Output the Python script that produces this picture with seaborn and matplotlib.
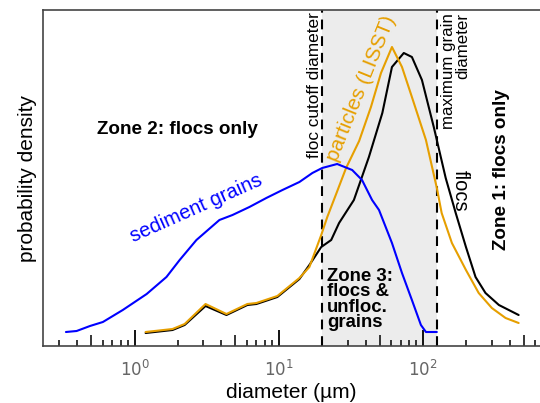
import numpy as np
import pandas as pd
import matplotlib
matplotlib.use("Agg")
import matplotlib.pyplot as plt
import matplotlib.ticker as mticker
import seaborn as sns

# ---- data ----
grain_d = [0.333, 0.395, 0.489, 0.601, 0.826, 1.21, 1.66, 2.05, 2.68, 3.87, 4.77, 6.25,
           8.19, 10.6, 13.9, 17.1, 20.0, 25.4, 32.3, 37.8, 44.4, 49.6, 61.0, 71.6,
           83.9, 96.9, 105, 125]
grain_p = [14, 15, 20, 24, 36, 52, 69, 86, 106, 126, 131, 139,
           148, 156, 164, 173, 178, 182, 176, 166, 146, 136, 103, 73,
           46, 21, 14, 14]

lisst_d = [1.19, 1.83, 2.22, 3.10, 4.33, 6.05, 6.99, 9.77, 13.9, 16.3, 19.7, 21.7,
           25.0, 29.3, 36.1, 43.6, 51.2, 61.0, 71.6, 83.9, 105, 125, 135, 159,
           199, 244, 301, 375, 462]
lisst_p = [14, 17, 22, 42, 32, 42, 43, 50, 68, 79, 111, 129,
           152, 178, 205, 239, 273, 299, 279, 249, 206, 158, 133, 103,
           76, 53, 38, 28, 23]

floc_d = [1.19, 1.83, 2.22, 3.10, 4.33, 6.05, 6.99, 9.77, 13.9, 16.3, 19.7, 23.1,
          26.2, 33.2, 42.2, 52.3, 61.0, 73.7, 83.9, 98.5, 119, 144, 169, 199,
          232, 272, 337, 462]
floc_p = [13, 16, 21, 40, 31, 41, 42, 49, 67, 81, 99, 106,
          123, 146, 189, 233, 279, 293, 289, 266, 219, 168, 133, 99,
          69, 53, 41, 31]

floc_cutoff = 20
max_grain = 125
xlim = (0.2308, 650)
ylim = (0, 336)

# ---- style ----
sns.set_theme(style="white")
plt.rcParams['font.family'] = ['Liberation Sans', 'DejaVu Sans']
plt.rcParams['text.color'] = 'black'
plt.rcParams['axes.labelcolor'] = 'black'

fig = plt.figure(figsize=(5.4, 4.03), dpi=100)
ax = fig.add_axes([43/540, 57/403, 1 - 43/540, 336/403])

ax.axvspan(floc_cutoff, max_grain, color='#ececec', zorder=0, lw=0)
for xv in (floc_cutoff, max_grain):
    ax.axvline(xv, color='black', lw=1.5, ls=(0, (4.7, 3.3)), zorder=1)

df_g = pd.DataFrame({'d': grain_d, 'p': grain_p})
df_l = pd.DataFrame({'d': lisst_d, 'p': lisst_p})
df_f = pd.DataFrame({'d': floc_d, 'p': floc_p})

sns.lineplot(data=df_f, x='d', y='p', ax=ax, color='black', lw=1.5, estimator=None, sort=False, zorder=3)
sns.lineplot(data=df_l, x='d', y='p', ax=ax, color='#e69f00', lw=1.5, estimator=None, sort=False, zorder=4)
sns.lineplot(data=df_g, x='d', y='p', ax=ax, color='#0000ff', lw=1.5, estimator=None, sort=False, zorder=5)

ax.set_xscale('log')
ax.set_xlim(*xlim)
ax.set_ylim(*ylim)

ax.xaxis.set_major_locator(mticker.FixedLocator([1, 10, 100]))
ax.xaxis.set_major_formatter(mticker.FixedFormatter([r'$10^0$', r'$10^1$', r'$10^2$']))
minor_locs = [m * 10.0**e for e in (-1, 0, 1, 2) for m in range(2, 10)]
minor_locs = [v for v in minor_locs if xlim[0] < v < xlim[1]]
ax.xaxis.set_minor_locator(mticker.FixedLocator(minor_locs))
ax.xaxis.set_minor_formatter(mticker.NullFormatter())
ax.tick_params(axis='x', which='major', direction='in', length=11.5, width=1.3,
               color='black', labelsize=12, labelcolor='#666666', pad=9, bottom=True)
ax.tick_params(axis='x', which='minor', direction='in', length=4.3, width=1.1,
               color='black', bottom=True)
ax.set_yticks([])

ax.spines['right'].set_visible(False)
for s in ('left', 'top', 'bottom'):
    ax.spines[s].set_color('#444444')
    ax.spines[s].set_linewidth(1.2)

ax.set_xlabel('diameter (µm)', fontsize=15, labelpad=3)
ax.set_ylabel('probability density', fontsize=15, labelpad=4)

# annotations
ax.text(1.98, 216, 'Zone 2: flocs only', fontsize=13.6, fontweight='bold', ha='center', va='center')
ax.text(354, 176, 'Zone 1: flocs only', fontsize=13.6, fontweight='bold', ha='center', va='center', rotation=90)
ax.text(21.7, 78, 'Zone 3:\nflocs &\nunfloc.\ngrains', fontsize=13.4, fontweight='bold',
        ha='left', va='top', linespacing=0.87)
ax.text(17.6, 261, 'floc cutoff diameter', fontsize=12.4, ha='center', va='center', rotation=90)
ax.text(169, 333, 'maximum grain\ndiameter', fontsize=12.2, ha='center', va='top',
        rotation=90, multialignment='right', linespacing=0.9)
ax.text(37.2, 258, 'particles (LISST)', fontsize=15, color='#e69f00', ha='center', va='center',
        rotation=68, rotation_mode='anchor')
ax.text(2.69, 138, 'sediment grains', fontsize=14.5, color='#0000ff', ha='center', va='center',
        rotation=24, rotation_mode='anchor')
ax.text(183, 155, 'flocs', fontsize=14.5, color='black', ha='center', va='center', rotation=-90)

# emphasize 5x minor ticks with a mid length
for t, loc in zip(ax.xaxis.get_minor_ticks(len(minor_locs)), minor_locs):
    if abs(loc / 10**np.floor(np.log10(loc)) - 5) < 1e-6:
        t.tick1line.set_markersize(8)

fig.savefig('out.png', dpi=100)
